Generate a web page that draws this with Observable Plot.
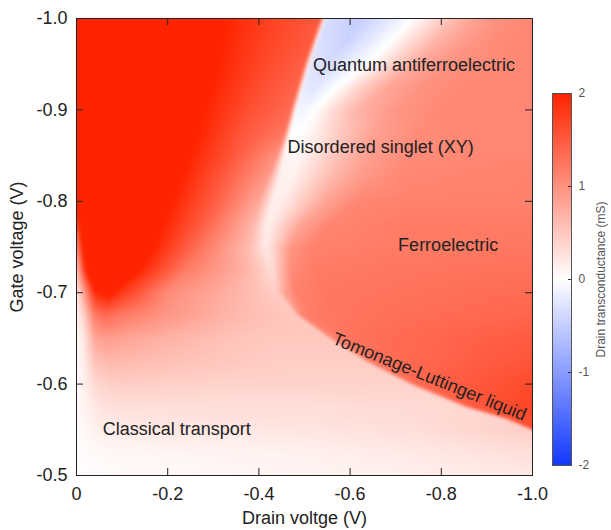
<!DOCTYPE html>
<html><head><meta charset="utf-8">
<script src="https://cdn.jsdelivr.net/npm/d3@7"></script>
<script src="https://cdn.jsdelivr.net/npm/@observablehq/plot@0.6"></script>
<style>
body{margin:0;background:#fff;}
#wrap{position:relative;width:611px;height:530px;background:#fff;}
#wrap svg{position:absolute;overflow:visible;}
</style></head><body><div id="wrap"></div>
<script>
// ---- axis ticks ----
const xTicks = [0, -0.2, -0.4, -0.6, -0.8, -1.0];
const yTicks = [-1.0, -0.9, -0.8, -0.7, -0.6, -0.5];
const xInner = [-0.2, -0.4, -0.6, -0.8];
const yInner = [-0.9, -0.8, -0.7, -0.6];
const cbTicks = [2, 1, 0, -1, -2];
const cbInner = [1, 0, -1];

// ---- drain transconductance (mS) read along each gate-voltage row ----
// every row lists the same 16 landmarks, left to right: [drain V, value]
const row_1000  = [[0,2.3],[-0.01,2.3],[-0.02,2.3],[-0.30,2.3],[-0.33,2.0],[-0.42,1.75],[-0.535,1.5],[-0.548,-0.35],[-0.62,-0.5],[-0.72,-0.1],[-0.76,0.15],[-0.81,0.5],[-0.86,0.8],[-0.92,1.0],[-0.96,1.05],[-1.0,1.1]];
const row_0975  = [[0,2.3],[-0.01,2.3],[-0.02,2.3],[-0.29,2.3],[-0.32,2.0],[-0.41,1.72],[-0.517,1.5],[-0.53,-0.3],[-0.59,-0.45],[-0.69,0],[-0.73,0.3],[-0.79,0.7],[-0.86,0.95],[-0.92,1.05],[-0.96,1.08],[-1.0,1.1]];
const row_0950  = [[0,2.3],[-0.01,2.3],[-0.02,2.3],[-0.28,2.3],[-0.31,2.0],[-0.40,1.7],[-0.5,1.45],[-0.512,-0.25],[-0.55,-0.35],[-0.64,0],[-0.69,0.4],[-0.75,0.8],[-0.82,1.0],[-0.9,1.05],[-0.95,1.08],[-1.0,1.1]];
const row_0925  = [[0,2.3],[-0.01,2.3],[-0.02,2.3],[-0.265,2.3],[-0.3,2.0],[-0.39,1.65],[-0.485,1.4],[-0.497,-0.2],[-0.525,-0.25],[-0.58,0.05],[-0.62,0.4],[-0.68,0.8],[-0.76,1.0],[-0.85,1.08],[-0.93,1.1],[-1.0,1.1]];
const row_0900  = [[0,2.3],[-0.01,2.3],[-0.02,2.3],[-0.25,2.3],[-0.28,2.0],[-0.38,1.6],[-0.47,1.35],[-0.482,-0.1],[-0.5,-0.1],[-0.53,0.05],[-0.56,0.3],[-0.62,0.7],[-0.7,0.95],[-0.8,1.08],[-0.9,1.1],[-1.0,1.1]];
const row_0875  = [[0,2.3],[-0.01,2.3],[-0.02,2.3],[-0.235,2.3],[-0.27,2.0],[-0.36,1.55],[-0.457,1.25],[-0.468,0.0],[-0.49,0.0],[-0.515,0.1],[-0.53,0.2],[-0.58,0.5],[-0.65,0.85],[-0.75,1.05],[-0.88,1.1],[-1.0,1.1]];
const row_0850  = [[0,2.3],[-0.01,2.3],[-0.02,2.3],[-0.215,2.3],[-0.25,2.0],[-0.34,1.55],[-0.44,1.0],[-0.455,0.1],[-0.475,0.07],[-0.49,0.08],[-0.52,0.25],[-0.57,0.55],[-0.63,0.85],[-0.72,1.05],[-0.86,1.1],[-1.0,1.1]];
const row_0825  = [[0,2.3],[-0.01,2.3],[-0.02,2.3],[-0.195,2.3],[-0.23,2.0],[-0.32,1.5],[-0.42,0.9],[-0.443,0.15],[-0.455,0.12],[-0.47,0.12],[-0.51,0.35],[-0.56,0.65],[-0.63,0.95],[-0.72,1.1],[-0.86,1.12],[-1.0,1.15]];
const row_0800  = [[0,2.3],[-0.01,2.3],[-0.02,2.3],[-0.18,2.3],[-0.21,2.0],[-0.3,1.5],[-0.4,0.8],[-0.43,0.15],[-0.44,0.15],[-0.46,0.2],[-0.5,0.5],[-0.55,0.85],[-0.62,1.1],[-0.75,1.15],[-0.88,1.15],[-1.0,1.15]];
const row_0775  = [[0,1.6],[-0.01,2.2],[-0.015,2.3],[-0.155,2.3],[-0.19,2.0],[-0.28,1.45],[-0.39,0.65],[-0.415,0.18],[-0.42,0.15],[-0.435,0.25],[-0.46,0.5],[-0.49,0.8],[-0.55,1.1],[-0.7,1.2],[-0.85,1.2],[-1.0,1.2]];
const row_0750  = [[0,1.0],[-0.01,1.8],[-0.02,2.3],[-0.13,2.3],[-0.17,2.0],[-0.26,1.35],[-0.38,0.6],[-0.405,0.3],[-0.415,0.2],[-0.425,0.3],[-0.44,0.5],[-0.47,0.95],[-0.52,1.15],[-0.7,1.2],[-0.85,1.22],[-1.0,1.25]];
const row_0725  = [[0,0.5],[-0.012,1.4],[-0.025,2.2],[-0.11,2.3],[-0.15,1.9],[-0.24,1.2],[-0.37,0.7],[-0.41,0.45],[-0.42,0.35],[-0.43,0.32],[-0.445,0.6],[-0.47,1.05],[-0.52,1.2],[-0.7,1.25],[-0.85,1.28],[-1.0,1.3]];
const row_0700  = [[0,0.2],[-0.015,0.8],[-0.04,1.9],[-0.07,2.1],[-0.1,1.8],[-0.2,1.05],[-0.35,0.68],[-0.4,0.55],[-0.42,0.48],[-0.44,0.45],[-0.455,0.8],[-0.48,1.15],[-0.55,1.25],[-0.7,1.28],[-0.85,1.32],[-1.0,1.35]];
const row_0675  = [[0,0.1],[-0.015,0.4],[-0.04,1.2],[-0.065,1.35],[-0.1,1.2],[-0.2,0.95],[-0.33,0.68],[-0.4,0.58],[-0.45,0.52],[-0.483,0.5],[-0.493,1.1],[-0.52,1.2],[-0.58,1.26],[-0.72,1.32],[-0.86,1.36],[-1.0,1.4]];
const row_0650  = [[0,0.05],[-0.015,0.2],[-0.04,0.8],[-0.065,0.9],[-0.1,0.85],[-0.2,0.7],[-0.33,0.55],[-0.42,0.5],[-0.5,0.5],[-0.553,0.5],[-0.563,1.15],[-0.59,1.25],[-0.65,1.32],[-0.76,1.38],[-0.88,1.44],[-1.0,1.5]];
const row_0625  = [[0,0.05],[-0.015,0.15],[-0.04,0.55],[-0.07,0.65],[-0.1,0.63],[-0.2,0.57],[-0.33,0.5],[-0.45,0.45],[-0.55,0.45],[-0.632,0.45],[-0.642,1.2],[-0.67,1.3],[-0.72,1.36],[-0.82,1.42],[-0.92,1.5],[-1.0,1.55]];
const row_0600  = [[0,0.05],[-0.015,0.12],[-0.04,0.35],[-0.07,0.42],[-0.1,0.45],[-0.2,0.42],[-0.35,0.4],[-0.5,0.4],[-0.62,0.4],[-0.73,0.4],[-0.74,1.3],[-0.77,1.4],[-0.82,1.47],[-0.9,1.55],[-0.95,1.6],[-1.0,1.65]];
const row_0575  = [[0,0.05],[-0.015,0.1],[-0.05,0.25],[-0.08,0.28],[-0.12,0.3],[-0.2,0.3],[-0.35,0.3],[-0.5,0.3],[-0.7,0.33],[-0.85,0.35],[-0.86,1.4],[-0.88,1.5],[-0.91,1.58],[-0.94,1.63],[-0.97,1.67],[-1.0,1.7]];
const row_05625 = [[0,0.05],[-0.015,0.08],[-0.05,0.2],[-0.08,0.22],[-0.12,0.24],[-0.2,0.25],[-0.35,0.27],[-0.5,0.28],[-0.75,0.33],[-0.935,0.4],[-0.945,1.5],[-0.955,1.55],[-0.965,1.58],[-0.975,1.6],[-0.99,1.62],[-1.0,1.65]];
const row_0550  = [[0,0.03],[-0.015,0.06],[-0.05,0.15],[-0.08,0.17],[-0.12,0.18],[-0.2,0.2],[-0.35,0.21],[-0.5,0.23],[-0.75,0.3],[-1.0,0.45],[-1.0,1.6],[-1.0,1.6],[-1.0,1.6],[-1.0,1.6],[-1.0,1.6],[-1.0,1.6]];
const row_0525  = [[0,0.02],[-0.015,0.03],[-0.05,0.06],[-0.08,0.07],[-0.12,0.08],[-0.2,0.09],[-0.35,0.11],[-0.5,0.13],[-0.75,0.2],[-1.0,0.3],[-1.0,0.3],[-1.0,0.3],[-1.0,0.3],[-1.0,0.3],[-1.0,0.3],[-1.0,0.3]];
const row_0500  = [[0,0.02],[-0.015,0.02],[-0.05,0.03],[-0.08,0.04],[-0.12,0.045],[-0.2,0.05],[-0.35,0.08],[-0.5,0.1],[-0.75,0.15],[-1.0,0.2],[-1.0,0.2],[-1.0,0.2],[-1.0,0.2],[-1.0,0.2],[-1.0,0.2],[-1.0,0.2]];

const gateRows = [-1.0,-0.975,-0.95,-0.925,-0.9,-0.875,-0.85,-0.825,-0.8,-0.775,-0.75,-0.725,-0.7,-0.675,-0.65,-0.625,-0.6,-0.575,-0.5625,-0.55,-0.525,-0.5];
const rowKnots = [row_1000,row_0975,row_0950,row_0925,row_0900,row_0875,row_0850,row_0825,row_0800,row_0775,row_0750,row_0725,row_0700,row_0675,row_0650,row_0625,row_0600,row_0575,row_05625,row_0550,row_0525,row_0500];

// ---- phase labels ----
const labelNames = ["Quantum antiferroelectric","Disordered singlet (XY)","Ferroelectric","Tomonage-Luttinger liquid","Classical transport"];
const labelDrain = [-0.74, -0.667, -0.815, -0.774, -0.22];
const labelGate  = [-0.949, -0.859, -0.752, -0.608, -0.551];
const labelAngle = [0, 0, 0, 22, 0];

// ---- table for the raster ----
const K = 16;
const samples = gateRows.flatMap((g, i) => rowKnots[i].map(([d, v]) => ({d, g, v})));

// raster interpolation: landmarks of neighbouring rows are joined, then linear along each row
function rowMorph(index, w, h, X, Y, V) {
  const R = Math.floor(index.length / K);
  const rY = [], rX = [], rV = [];
  for (let r = 0; r < R; r++) {
    const ids = Array.from(index).slice(r * K, (r + 1) * K);
    rY.push(Y[ids[0]]);
    rX.push(ids.map(i => X[i]));
    rV.push(ids.map(i => +V[i]));
  }
  const order = d3.range(R).sort((a, b) => rY[a] - rY[b]);
  const out = new Float64Array(w * h);
  const kx = new Float64Array(K), kv = new Float64Array(K);
  for (let py = 0; py < h; py++) {
    const yc = py + 0.5;
    let r = 0;
    while (r < R - 2 && rY[order[r + 1]] <= yc) r++;
    const a = order[r], b = order[r + 1];
    let t = (yc - rY[a]) / (rY[b] - rY[a]);
    t = Math.max(0, Math.min(1, t));
    for (let k = 0; k < K; k++) {
      kx[k] = rX[a][k] * (1 - t) + rX[b][k] * t;
      kv[k] = rV[a][k] * (1 - t) + rV[b][k] * t;
    }
    let k = 0;
    for (let px = 0; px < w; px++) {
      const xc = px + 0.5;
      while (k < K - 2 && kx[k + 1] <= xc) k++;
      const x0 = kx[k], x1 = kx[k + 1];
      let s = x1 > x0 ? (xc - x0) / (x1 - x0) : 1;
      s = Math.max(0, Math.min(1, s));
      out[py * w + px] = kv[k] * (1 - s) + kv[k + 1] * s;
    }
  }
  return out;
}

const fmt = d => d === 0 ? "0" : d.toFixed(1);
const colorOpts = {type:"linear", domain:[-2,0,2], range:["#1238ff","#ffffff","#ff2400"], interpolate:"rgb", clamp:true};
const FONT = "'Liberation Sans', Arial, Helvetica, sans-serif";

const main = Plot.plot({
  width:611, height:530, marginLeft:76, marginRight:79, marginTop:18, marginBottom:55,
  style:{fontFamily:FONT, background:"transparent", color:"#222", fontSize:"18px"},
  x:{domain:[0,-1], axis:null},
  y:{domain:[-0.5,-1.0], axis:null},
  color: colorOpts,
  marks:[
    Plot.raster(samples, {x:"d", y:"g", fill:"v", interpolate:rowMorph, blur:1}),
    Plot.ruleX(xInner, {x:d=>d, stroke:"#222", insetTop:450}),
    Plot.ruleX(xInner, {x:d=>d, stroke:"#222", insetBottom:450}),
    Plot.ruleY(yInner, {y:d=>d, stroke:"#222", insetRight:449}),
    Plot.ruleY(yInner, {y:d=>d, stroke:"#222", insetLeft:449}),
    Plot.frame({stroke:"#222"}),
    Plot.axisX(xTicks, {anchor:"bottom", tickSize:0, tickPadding:12, tickFormat:fmt, fontSize:18, fill:"#222",
      label:"Drain voltge (V)", labelAnchor:"center", labelOffset:48, labelArrow:"none"}),
    Plot.axisY(yTicks, {anchor:"left", tickSize:0, tickPadding:9, tickFormat:fmt, fontSize:18, fill:"#222",
      label:"Gate voltage (V)", labelAnchor:"center", labelOffset:66, labelArrow:"none"}),
    Plot.text(labelNames, {x:labelDrain, y:labelGate, text:d=>d, rotate:labelAngle, fontSize:18, fill:"#222"})
  ]
});
main.style.left = "0px"; main.style.top = "0px";

const cb = Plot.plot({
  width:59, height:392, marginLeft:0, marginRight:40, marginTop:10, marginBottom:10,
  style:{fontFamily:FONT, background:"transparent", color:"#555", fontSize:"12px"},
  x:{domain:[0,1], axis:null},
  y:{domain:[-2,2], axis:null},
  color: colorOpts,
  marks:[
    Plot.raster({fill:(x, y) => y, x1:0, x2:1, y1:-2, y2:2}),
    Plot.ruleY(cbInner, {y:d=>d, stroke:"#333", insetLeft:16}),
    Plot.frame({stroke:"#555"}),
    Plot.axisY(cbTicks, {anchor:"right", tickSize:0, tickPadding:7, tickFormat:d=>String(d), fontSize:12, fill:"#555",
      label:"Drain transconductance (mS)", labelAnchor:"center", labelOffset:33, labelArrow:"none"})
  ]
});
cb.style.left = "552px"; cb.style.top = "83px";

const wrap = document.getElementById("wrap");
wrap.appendChild(main);
wrap.appendChild(cb);
</script></body></html>
